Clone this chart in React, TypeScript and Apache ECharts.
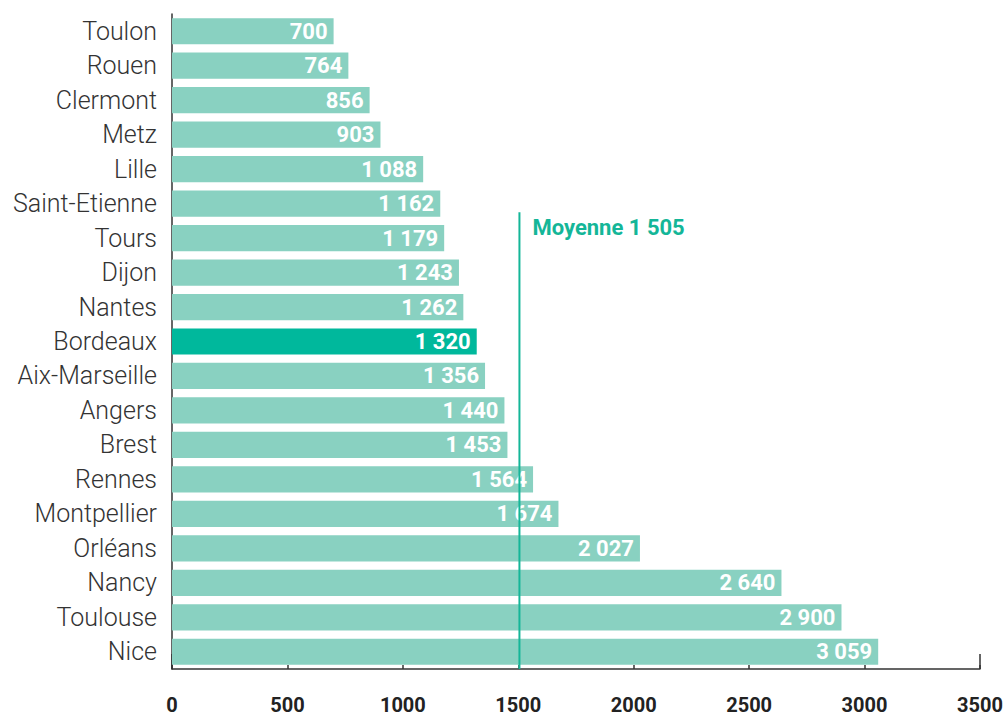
import React, { useEffect, useRef } from "react";
import * as echarts from "echarts";

// Cities, top to bottom
const cities = [
  "Toulon", "Rouen", "Clermont", "Metz", "Lille", "Saint-Etienne", "Tours",
  "Dijon", "Nantes", "Bordeaux", "Aix-Marseille", "Angers", "Brest", "Rennes",
  "Montpellier", "Orléans", "Nancy", "Toulouse", "Nice",
];
const values = [
  700, 764, 856, 903, 1088, 1162, 1179, 1243, 1262, 1320, 1356, 1440, 1453,
  1564, 1674, 2027, 2640, 2900, 3059,
];
const highlighted = "Bordeaux";
const average = 1505;
const averageLabel = "Moyenne";
// vertical extent of the average rule, in row units (0 = top of first row)
const averageRows = [5.75, 19];
const xTicks = [0, 500, 1000, 1500, 2000, 2500, 3000, 3500];

const barColor = "#89d1c1";
const highlightColor = "#00b89c";
const averageColor = "#14b698";

const fmt = (v: number) =>
  String(Math.round(v)).replace(/\B(?=(\d{3})+(?!\d))/g, " ");

const numFont = "Roboto, sans-serif";

export default function App() {
  const ref = useRef<HTMLDivElement>(null);

  useEffect(() => {
    if (!ref.current) return;
    const chart = echarts.init(ref.current, undefined, { renderer: "svg" });
    chart.setOption({
      animation: false,
      grid: {
        left: 172,
        right: 25,
        top: 14,
        bottom: 49,
        containLabel: false,
        outerBoundsMode: "none",
      },
      xAxis: [
        {
          type: "value",
          position: "bottom",
          min: xTicks[0],
          max: xTicks[xTicks.length - 1],
          interval: 500,
          axisLine: { show: true, onZero: false, lineStyle: { color: "#333", width: 1.5 } },
          axisTick: { show: true, inside: true, length: 4, lineStyle: { color: "#333", width: 1.5 } },
          splitLine: { show: false },
          axisLabel: {
            margin: 26,
            color: "#222",
            fontFamily: numFont,
            fontWeight: "bold",
            fontSize: 20,
            formatter: (v: number) => String(v),
          },
        },
        {
          // end marker tick at the right of the axis
          type: "value",
          position: "bottom",
          min: xTicks[0],
          max: xTicks[xTicks.length - 1],
          interval: 3500,
          axisLine: { show: false, onZero: false },
          axisTick: { show: true, inside: true, length: 15, lineStyle: { color: "#333", width: 1.5 } },
          axisLabel: { show: false },
          splitLine: { show: false },
        },
      ],
      yAxis: [
        {
          type: "category",
          data: cities,
          inverse: true,
          axisLine: { show: true, onZero: false, lineStyle: { color: "#333", width: 1.5 } },
          axisTick: { show: false },
          axisLabel: {
            margin: 15,
            color: "#333",
            fontFamily: "Roboto",
            fontWeight: 300,
            fontSize: 25,
          },
        },
        {
          type: "value",
          min: 0,
          max: cities.length,
          inverse: true,
          show: false,
        },
      ],
      series: [
        {
          type: "bar",
          xAxisIndex: 0,
          yAxisIndex: 0,
          barCategoryGap: "24%",
          data: values.map((v, i) => ({
            value: v,
            itemStyle: { color: cities[i] === highlighted ? highlightColor : barColor },
          })),
          label: {
            show: true,
            position: "insideRight",
            distance: 6,
            color: "#fff",
            fontFamily: numFont,
            fontWeight: "bold",
            fontSize: 22,
            formatter: (p: any) => fmt(p.value),
          },
          z: 2,
        },
        {
          type: "line",
          xAxisIndex: 0,
          yAxisIndex: 1,
          data: averageRows.map((r) => [average, r]),
          symbol: "none",
          lineStyle: { color: averageColor, width: 2 },
          z: 5,
          label: { show: false },
          markPoint: {
            symbol: "circle",
            symbolSize: 0,
            data: [{ coord: [average, averageRows[0]] }],
            label: {
              show: true,
              position: "right",
              offset: [8, 15],
              color: averageColor,
              fontFamily: numFont,
              fontWeight: "bold",
              fontSize: 22,
              formatter: () => `${averageLabel} ${fmt(average)}`,
            },
          },
        },
      ],
    });
    return () => chart.dispose();
  }, []);

  return (
    <div
      ref={ref}
      style={{ position: "absolute", left: 0, top: 0, width: 1005, height: 718, background: "#fff" }}
    />
  );
}
